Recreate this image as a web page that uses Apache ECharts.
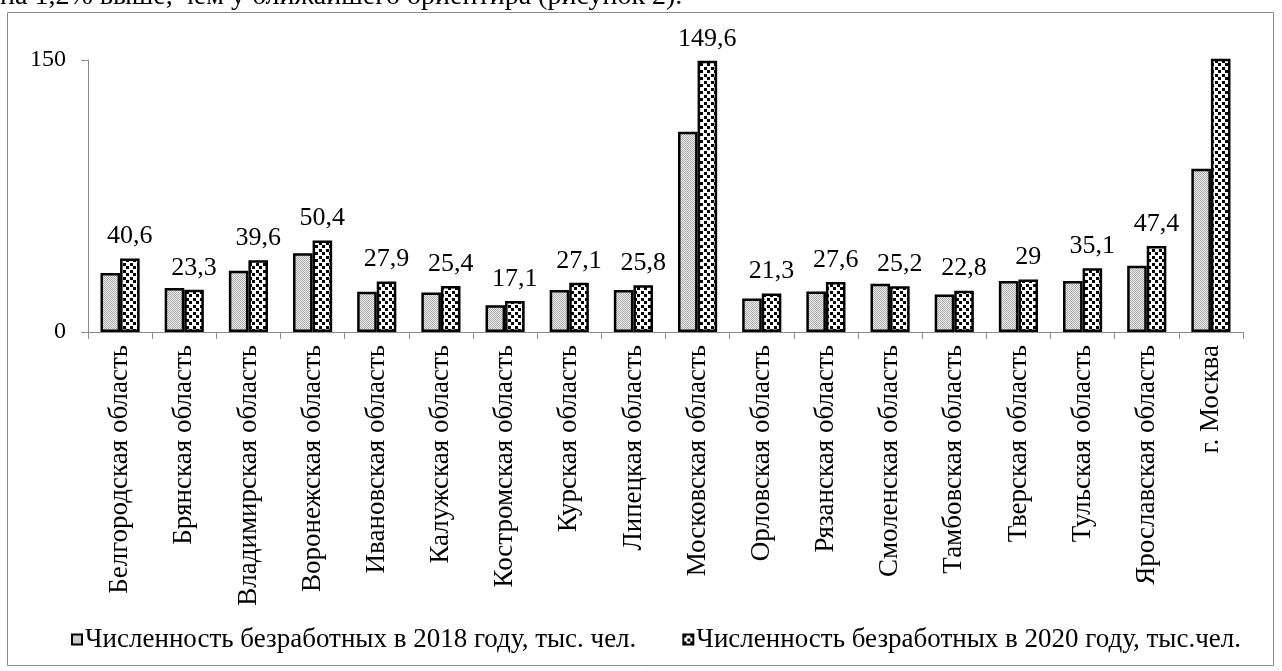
<!DOCTYPE html>
<html>
<head>
<meta charset="utf-8">
<script src="https://cdn.jsdelivr.net/npm/echarts@6/dist/echarts.min.js"></script>
<style>
html,body{margin:0;padding:0;background:#fff;}
#chart{width:1282px;height:671px;}
</style>
</head>
<body>
<div id="chart"></div>
<script>
const categories = ['Белгородская область','Брянская область','Владимирская область','Воронежская область','Ивановская область','Калужская область','Костромская область','Курская область','Липецкая область','Московская область','Орловская область','Рязанская область','Смоленская область','Тамбовская область','Тверская область','Тульская область','Ярославская область','г. Москва'];
const values2018 = [32.6, 24.2, 33.8, 43.4, 22.2, 21.8, 14.7, 23.1, 23.1, 110.5, 18.5, 22.4, 26.6, 20.7, 28.1, 28.1, 36.5, 90.0];
const values2020 = [40.6, 23.3, 39.6, 50.4, 27.9, 25.4, 17.1, 27.1, 25.8, 149.6, 21.3, 27.6, 25.2, 22.8, 29, 35.1, 47.4, 175];
const seriesNames = ['Численность безработных в 2018 году, тыс. чел.', 'Численность безработных в 2020 году, тыс.чел.'];
const yTicks = [0, 150];
const headText = 'на 1,2% выше, чем у ближайшего ориентира (рисунок 2).';

const FONT = '"Liberation Serif", "Times New Roman", serif';

function makePattern2018() {
  const c = document.createElement('canvas');
  c.width = 4; c.height = 4;
  const ctx = c.getContext('2d');
  ctx.fillStyle = '#f2f2f2';
  ctx.fillRect(0, 0, 4, 4);
  ctx.fillStyle = '#a8a8a8';
  for (let y = 0; y < 4; y++) for (let x = 0; x < 4; x++) {
    if ((x + y) % 2 === 0) ctx.fillRect(x, y, 1, 1);
  }
  return c;
}
function makePattern2020() {
  const c = document.createElement('canvas');
  c.width = 7; c.height = 7;
  const ctx = c.getContext('2d');
  ctx.fillStyle = '#ffffff';
  ctx.fillRect(0, 0, 7, 7);
  ctx.fillStyle = '#000000';
  ctx.fillRect(0, 0, 3, 3);
  ctx.fillRect(4, 4, 3, 3);
  return c;
}

const chart = echarts.init(document.getElementById('chart'), null, {renderer: 'canvas'});
const yMax = yTicks[yTicks.length - 1];
const d2020 = values2020.map(v => (v > yMax ? {value: v, label: {show: false}} : v));

chart.setOption({
  animation: false,
  textStyle: {fontFamily: FONT, color: '#000'},
  graphic: [
    {type: 'rect', shape: {x: 7.5, y: 12.5, width: 1266, height: 653}, style: {fill: 'none', stroke: '#8c8c8c', lineWidth: 1}, silent: true},
    {type: 'text', style: {text: headText, x: 0, y: 11, font: '28px ' + FONT, fill: '#000', verticalAlign: 'bottom'}, silent: true}
  ],
  grid: {left: 88, right: 39, top: 60, bottom: 339, containLabel: false},
  legend: {
    left: 66, top: 621,
    itemWidth: 10, itemHeight: 10, itemGap: 46,
    icon: 'rect',
    textStyle: {fontFamily: FONT, fontSize: 27, color: '#000', padding: [0, 0, 0, -2]},
    data: seriesNames
  },
  xAxis: {
    type: 'category',
    data: categories,
    axisLine: {lineStyle: {color: '#8c8c8c', width: 1}},
    axisTick: {show: true, length: 7, alignWithLabel: false, lineStyle: {color: '#8c8c8c'}},
    axisLabel: {rotate: 90, fontSize: 27, fontFamily: FONT, color: '#000', margin: 13, interval: 0}
  },
  yAxis: {
    type: 'value',
    min: 0, max: yMax, interval: yMax,
    axisLine: {show: true, lineStyle: {color: '#8c8c8c', width: 1}},
    axisTick: {show: true, length: 7, lineStyle: {color: '#8c8c8c'}},
    splitLine: {show: false},
    axisLabel: {fontSize: 24, fontFamily: FONT, color: '#000', margin: 22}
  },
  series: [
    {
      name: seriesNames[0], type: 'bar', data: values2018,
      barGap: '0%', barCategoryGap: '39%',
      itemStyle: {color: {image: makePattern2018(), repeat: 'repeat'}, borderColor: '#000', borderWidth: 2.5},
      clip: true
    },
    {
      name: seriesNames[1], type: 'bar', data: d2020,
      itemStyle: {color: {image: makePattern2020(), repeat: 'repeat'}, borderColor: '#000', borderWidth: 2.5},
      clip: true,
      label: {
        show: true, position: 'top', distance: 9, fontSize: 26, fontFamily: FONT, color: '#000',
        formatter: p => String(p.value).replace('.', ',')
      }
    }
  ]
});
</script>
</body>
</html>
